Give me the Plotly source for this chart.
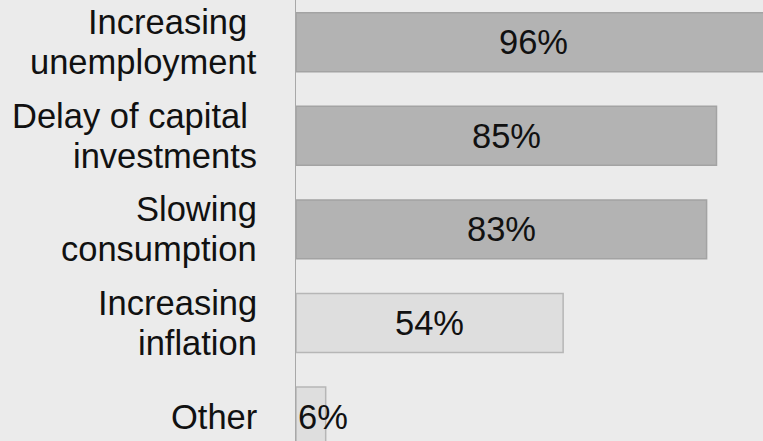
import plotly.graph_objects as go

# Survey categories (top to bottom) and share of respondents, in percent
categories = [
    "Increasing\u00a0<br>unemployment",
    "Delay of capital\u00a0<br>investments",
    "Slowing<br>consumption",
    "Increasing<br>inflation",
    "Other",
]
values = [96, 85, 83, 54, 6]
bar_colors = ["#b3b3b3", "#b3b3b3", "#b3b3b3", "#dedede", "#dedede"]
edge_colors = ["#a3a3a3", "#a3a3a3", "#a3a3a3", "#b6b6b6", "#b6b6b6"]

FONT = "Liberation Sans, Arial, sans-serif"
FONT_SIZE = 34.5
TEXT_COLOR = "#111111"
BG = "#ebebeb"
LINE_GAP = 20  # half the distance between the two lines of a category label

fig = go.Figure()

fig.add_trace(go.Bar(
    y=categories,
    x=values,
    orientation="h",
    marker=dict(color=bar_colors, line=dict(color=edge_colors, width=1.5)),
    showlegend=False,
    hoverinfo="x+y",
))

annotations = []

# Category labels, right-aligned to the left of the axis, one line per annotation
for cat in categories:
    lines = cat.split("<br>")
    n = len(lines)
    for i, line in enumerate(lines):
        offset = (i - (n - 1) / 2) * 2 * LINE_GAP
        annotations.append(dict(
            x=0, xref="paper", y=cat, yref="y",
            text=line, showarrow=False,
            xanchor="right", yanchor="middle",
            xshift=-37, yshift=-offset,
            font=dict(family=FONT, size=FONT_SIZE, color=TEXT_COLOR),
        ))

# Value labels: centred in the bar, except the short last bar which starts at the axis
for cat, v in zip(categories, values):
    if cat == "Other":
        ann = dict(x=0, xanchor="left", xshift=0)
    else:
        ann = dict(x=v / 2, xanchor="center")
    annotations.append(dict(
        **ann,
        xref="x", y=cat, yref="y",
        text=f"{v}%", showarrow=False, yanchor="middle",
        font=dict(family=FONT, size=FONT_SIZE, color=TEXT_COLOR),
    ))

fig.update_layout(
    width=763,
    height=441,
    margin=dict(l=296, r=0, t=0, b=0),
    paper_bgcolor=BG,
    plot_bgcolor=BG,
    bargap=0.37,
    font=dict(family=FONT, size=FONT_SIZE, color=TEXT_COLOR),
    annotations=annotations,
    xaxis=dict(
        range=[0, 94.4],
        showgrid=False,
        zeroline=False,
        showticklabels=False,
        showline=False,
        ticks="",
    ),
    yaxis=dict(
        type="category",
        categoryorder="array",
        categoryarray=categories,
        range=[4.261, -0.451],
        showgrid=False,
        zeroline=False,
        showline=True,
        linecolor="#a8a8a8",
        linewidth=1,
        ticks="",
        showticklabels=False,
    ),
)

fig.write_html("out.html")
